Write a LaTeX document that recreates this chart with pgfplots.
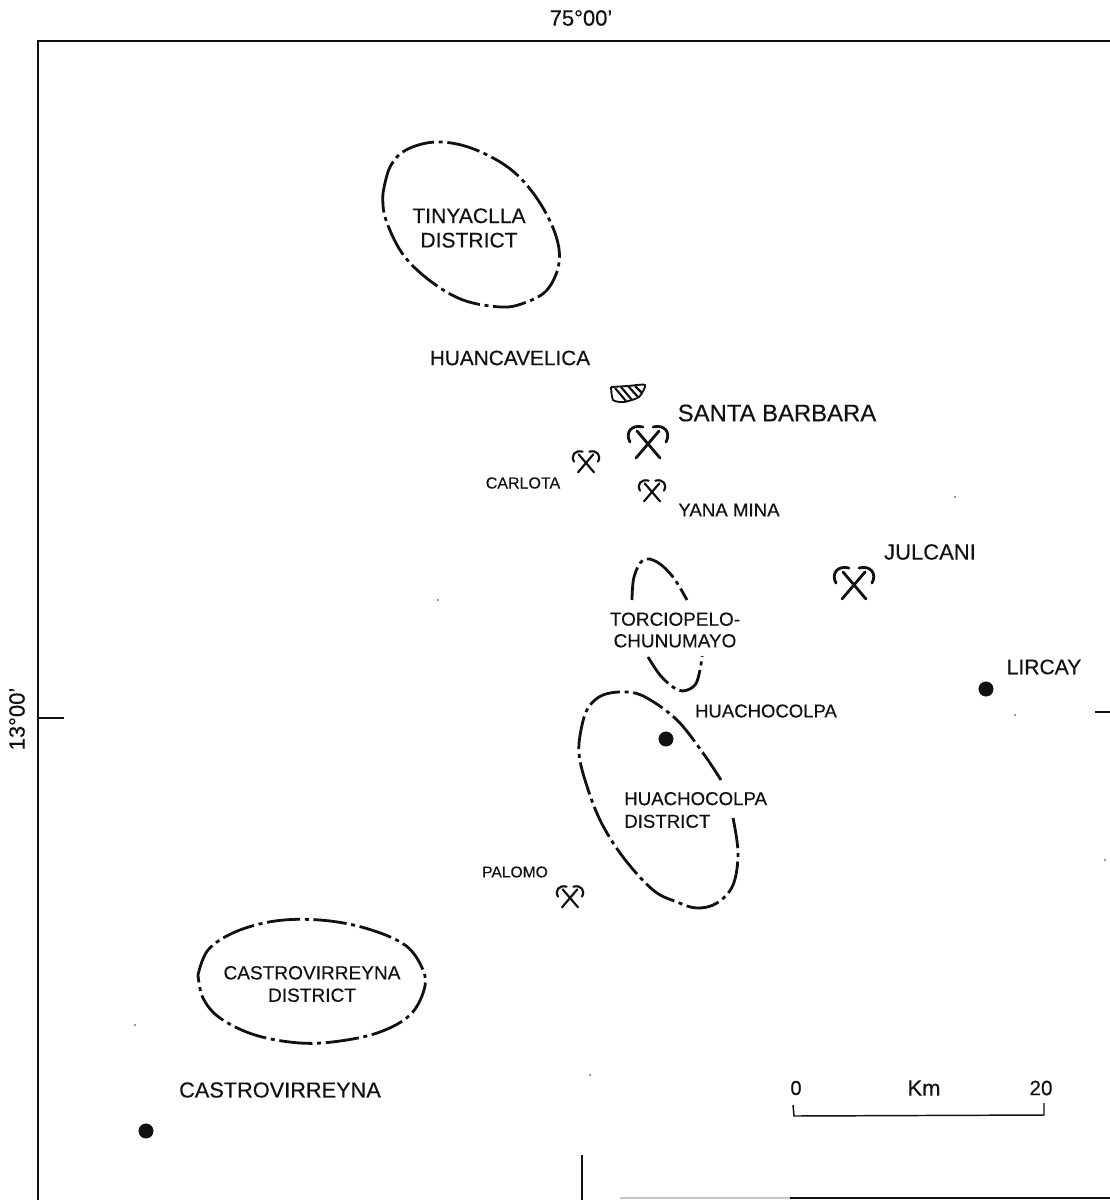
\documentclass[border=0pt]{standalone}
\usepackage{pgfplots}
\pgfplotsset{compat=1.18}
\usepackage{fontspec}
\setmainfont{Liberation Sans}[FakeBold=0.35]

% crossed hammers, drawn as a plot mark so the mines stay plain data
\pgfdeclareplotmark{pick}{%
  \pgfsetroundcap
  \pgfpathmoveto{\pgfpoint{-0.6\pgfplotmarksize}{-0.7\pgfplotmarksize}}
  \pgfpathlineto{\pgfpoint{0.55\pgfplotmarksize}{0.65\pgfplotmarksize}}
  \pgfpathmoveto{\pgfpoint{0.6\pgfplotmarksize}{-0.7\pgfplotmarksize}}
  \pgfpathlineto{\pgfpoint{-0.55\pgfplotmarksize}{0.65\pgfplotmarksize}}
  \pgfpathmoveto{\pgfpoint{-0.9\pgfplotmarksize}{0.1\pgfplotmarksize}}
  \pgfpathcurveto{\pgfpoint{-1.15\pgfplotmarksize}{0.55\pgfplotmarksize}}{\pgfpoint{-0.85\pgfplotmarksize}{1.0\pgfplotmarksize}}{\pgfpoint{-0.25\pgfplotmarksize}{0.85\pgfplotmarksize}}
  \pgfpathmoveto{\pgfpoint{0.9\pgfplotmarksize}{0.1\pgfplotmarksize}}
  \pgfpathcurveto{\pgfpoint{1.15\pgfplotmarksize}{0.55\pgfplotmarksize}}{\pgfpoint{0.85\pgfplotmarksize}{1.0\pgfplotmarksize}}{\pgfpoint{0.25\pgfplotmarksize}{0.85\pgfplotmarksize}}
  \pgfusepathqstroke
}

\definecolor{ink}{HTML}{111111}
\newcommand{\lab}[4]{\node[inner sep=0pt,anchor=center,align=center,text=ink,font=\fontsize{#3}{#3}\selectfont] at (axis cs:#1,#2) {#4};}

\pgfplotsset{
  district/.style={ink,line width=2.1pt,dash pattern=on 25pt off 3.5pt on 3pt off 3.5pt,smooth,tension=0.6,no markers},
  frame/.style={ink,no markers},
}

\begin{document}
\begin{tikzpicture}
\begin{axis}[
    scale only axis,
    width=832.5pt,
    height=900pt,
    xmin=0, xmax=1110,
    ymin=0, ymax=1200,
    y dir=reverse,
    hide axis,
    unbounded coords=jump,
]
\path (axis cs:0,0) rectangle (axis cs:1110,1200);

% frame and graticule ticks
\addplot[frame,line width=1.4pt] coordinates {(1110,41) (38,41) (38,1200)};
\addplot[frame,line width=1.4pt] coordinates {(38,718) (64,718)};
\addplot[frame,line width=1.2pt] coordinates {(1095,712) (1110,712)};
\addplot[frame,line width=1.4pt] coordinates {(582,1155) (582,1200)};
\addplot[gray!45,line width=0.9pt,no markers] coordinates {(620,1198) (790,1198)};
\addplot[frame,line width=1.6pt] coordinates {(790,1198) (1110,1198)};

% districts
\addplot[district] coordinates {(383,193) (390,167) (406,150) (436,142) (471,148) (509,168) (536,197) (555,233) (559,263) (547,290) (524,303) (501,307) (463,300) (429,280) (402,253) (385,217) (383,193)};
\addplot[district] coordinates {(632,600) (634,577) (643,560) (657,562) (673,577) (687,600)};
\addplot[district] coordinates {(648,657) (660,675) (673,687) (683,691) (695,685) (700,670) (702,656)};
\addplot[district] coordinates {(721,780) (703,753) (677,720) (647,698) (627,692) (603,695) (588,708) (581,730) (579,753) (585,780) (600,820) (623,857) (653,890) (677,902) (697,908) (717,903) (733,885) (738,853) (733,818)};
\addplot[district] coordinates {(198,975) (208,950) (235,932) (275,921) (320,920) (365,928) (405,945) (423,970) (424,990) (410,1015) (380,1032) (340,1041) (300,1043) (255,1035) (220,1018) (203,998) (198,975)};

% towns
\addplot[only marks,mark=*,mark size=5.4pt,ink] coordinates {(986,689) (666,739) (146,1131)};

% mines
\addplot[only marks,mark=pick,mark size=15pt,ink,line width=2.1pt] coordinates {(648,444) (854,585)};
\addplot[only marks,mark=pick,mark size=10pt,ink,line width=1.6pt] coordinates {(586,463) (652,492) (570,898)};

% Huancavelica town patch
\addplot[ink,line width=1.4pt,no markers,smooth,tension=0.4] coordinates {(611,387) (628,386) (645,385) (639,397) (624,402) (613,400) (611,387)};
\addplot[ink,line width=1.6pt,no markers] coordinates {(615,388) (626,401) (nan,nan) (621,387) (632,400) (nan,nan) (628,386) (638,397) (nan,nan) (635,386) (642,393)};

% scale bar
\addplot[frame,line width=1.1pt] coordinates {(793,1105) (794,1116) (1044,1115) (1044,1103)};

% specks from the scan
\addplot[only marks,mark=*,mark size=0.5pt,gray] coordinates {(955,497) (1015,715) (1105,860) (438,600) (135,1025) (590,1075)};

\lab{581}{18}{16.5}{75°00'}
\node[rotate=90,inner sep=0pt,anchor=center,text=ink,font=\fontsize{16.5}{16.5}\selectfont] at (axis cs:17,719) {13°00'};
\lab{469}{228}{15.8}{TINYACLLA\\[2.5pt]DISTRICT}
\lab{510}{358}{15.6}{HUANCAVELICA}
\lab{777}{413}{17.9}{SANTA BARBARA}
\lab{523}{483}{12}{CARLOTA}
\lab{729}{510}{14}{YANA MINA}
\lab{930}{552}{16.5}{JULCANI}
\lab{1044}{667}{15.8}{LIRCAY}
\lab{675}{630}{14.2}{TORCIOPELO-\\[2pt]CHUNUMAYO}
\lab{766}{711}{13.9}{HUACHOCOLPA}
\node[inner sep=0pt,anchor=west,align=left,text=ink,font=\fontsize{14}{14}\selectfont] at (axis cs:624,810) {HUACHOCOLPA\\[3pt]DISTRICT};
\lab{515}{872}{11.7}{PALOMO}
\lab{312}{984}{14.3}{CASTROVIRREYNA\\[2.5pt]DISTRICT}
\lab{280}{1090}{16.3}{CASTROVIRREYNA}
\lab{796}{1088}{15}{0}
\lab{924}{1088}{16.5}{Km}
\lab{1041}{1088}{15.5}{20}
\end{axis}
\end{tikzpicture}
\end{document}
